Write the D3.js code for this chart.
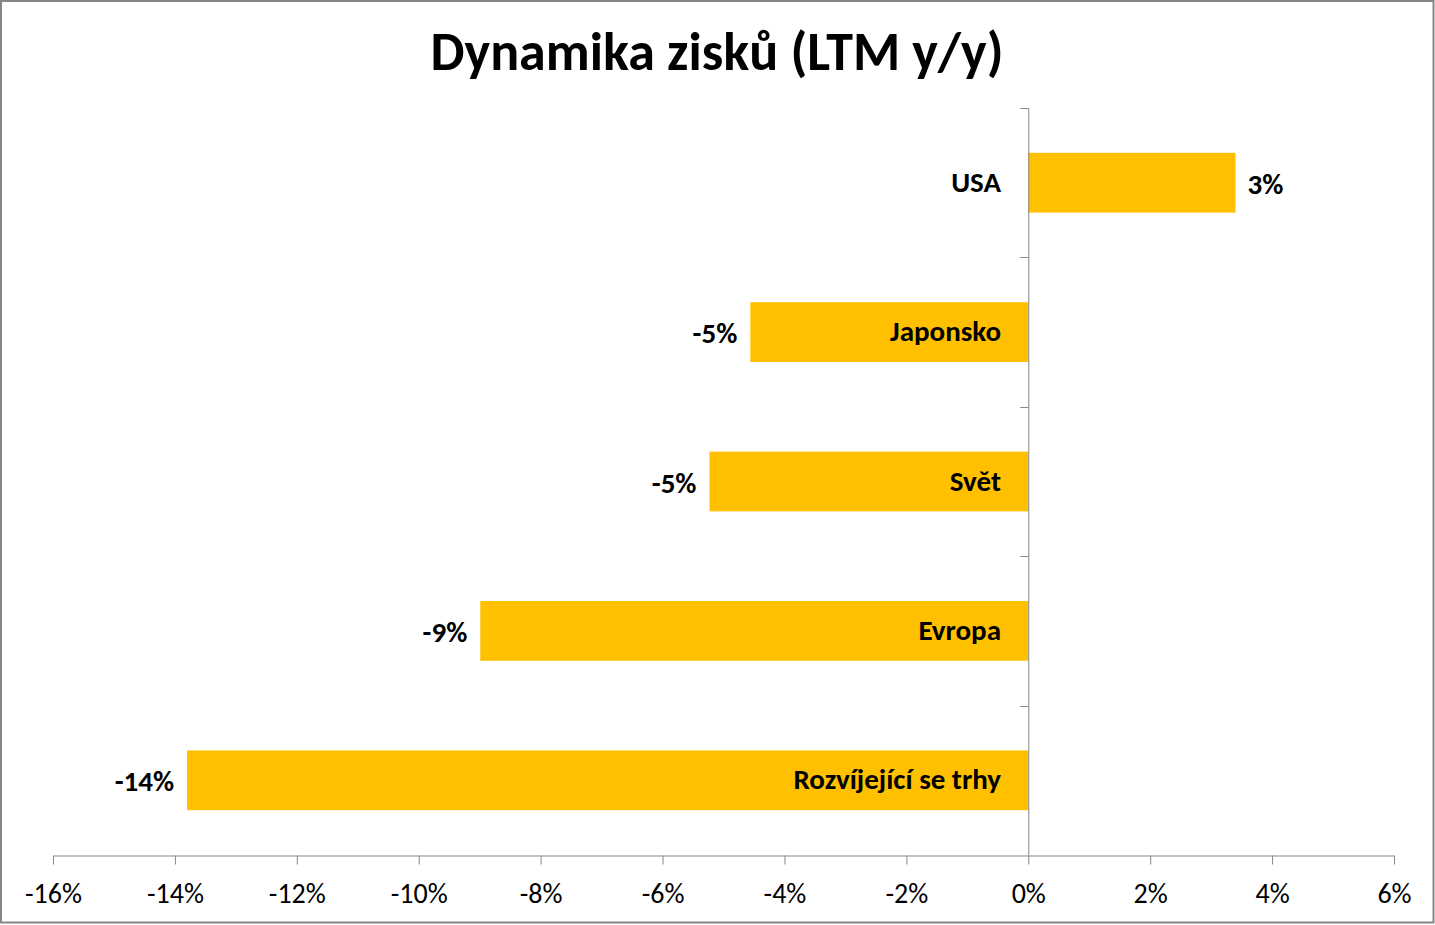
<!DOCTYPE html>
<html><head><meta charset="utf-8">
<script src="https://cdn.jsdelivr.net/npm/d3@7"></script>
<style>
html,body{margin:0;padding:0;background:#fff;}
svg{display:block;font-family:Carlito, Calibri, Lato, sans-serif;}
</style></head>
<body><svg id="c" width="1435" height="925"></svg>
<script>
const title = "Dynamika zisků (LTM y/y)";
const categories = ["USA", "Japonsko", "Svět", "Evropa", "Rozvíjející se trhy"];
const values = [3.4, -4.56, -5.23, -8.99, -13.8];
const valueLabels = ["3%", "-5%", "-5%", "-9%", "-14%"];
const xTicks = [-16, -14, -12, -10, -8, -6, -4, -2, 0, 2, 4, 6];

const svg = d3.select("#c");
const W = 1435, H = 925;
svg.append("rect").attr("x",1).attr("y",1).attr("width",W-2.5).attr("height",H-3.5)
  .attr("fill","#fff").attr("stroke","#868686").attr("stroke-width",2);

const x = d3.scaleLinear().domain([-16, 6]).range([53, 1394]);
const y = d3.scaleBand().domain(categories).range([108, 855]).paddingInner(0.6).paddingOuter(0.3);
const axisColor = "#868686";

svg.append("text").attr("x", 717).attr("y", 70).attr("text-anchor","middle")
  .attr("font-size", 54).attr("font-weight","bold").attr("fill","#000").text(title);

// bars
svg.selectAll("rect.bar").data(values).join("rect").attr("class","bar")
  .attr("x", d => x(Math.min(0,d))).attr("width", d => Math.abs(x(d)-x(0)))
  .attr("y", (d,i) => y(categories[i])).attr("height", y.bandwidth())
  .attr("fill", "#FFC000");

// x axis
const xa = svg.append("g").attr("transform","translate(0,855.5)")
  .call(d3.axisBottom(x).tickValues(xTicks).tickSize(9).tickSizeOuter(0).tickFormat(d => d + "%"));
xa.select(".domain").attr("stroke", axisColor);
xa.selectAll(".tick line").attr("stroke", axisColor);
xa.selectAll(".tick text").attr("font-size", 28).attr("fill","#000").attr("dy", 0).attr("y", 47)
  .attr("font-family","Carlito, Calibri, Lato, sans-serif");

// y axis (at zero) with boundary ticks
const yBounds = d3.range(categories.length + 1).map(i => 108 + i * (747 / categories.length));
svg.append("line").attr("x1", x(0)+0.5).attr("x2", x(0)+0.5).attr("y1",108).attr("y2",855)
  .attr("stroke", axisColor);
svg.selectAll("line.yt").data(yBounds.slice(0,-1)).join("line").attr("class","yt")
  .attr("x1", x(0)-8).attr("x2", x(0)).attr("y1", d => Math.round(d)+0.5).attr("y2", d => Math.round(d)+0.5)
  .attr("stroke", axisColor);

// category labels
svg.selectAll("text.cat").data(categories).join("text").attr("class","cat")
  .attr("x", 1001).attr("y", d => y(d) + y.bandwidth()/2 + 9)
  .attr("text-anchor","end").attr("font-size", 29).attr("font-weight","bold").text(d => d);

// value labels
svg.selectAll("text.val").data(values).join("text").attr("class","val")
  .attr("x", d => d >= 0 ? x(d) + 12 : x(d) - 13)
  .attr("y", (d,i) => y(categories[i]) + y.bandwidth()/2 + 11)
  .attr("text-anchor", d => d >= 0 ? "start" : "end")
  .attr("font-size", 29).attr("font-weight","bold").text((d,i) => valueLabels[i]);
</script></body></html>
